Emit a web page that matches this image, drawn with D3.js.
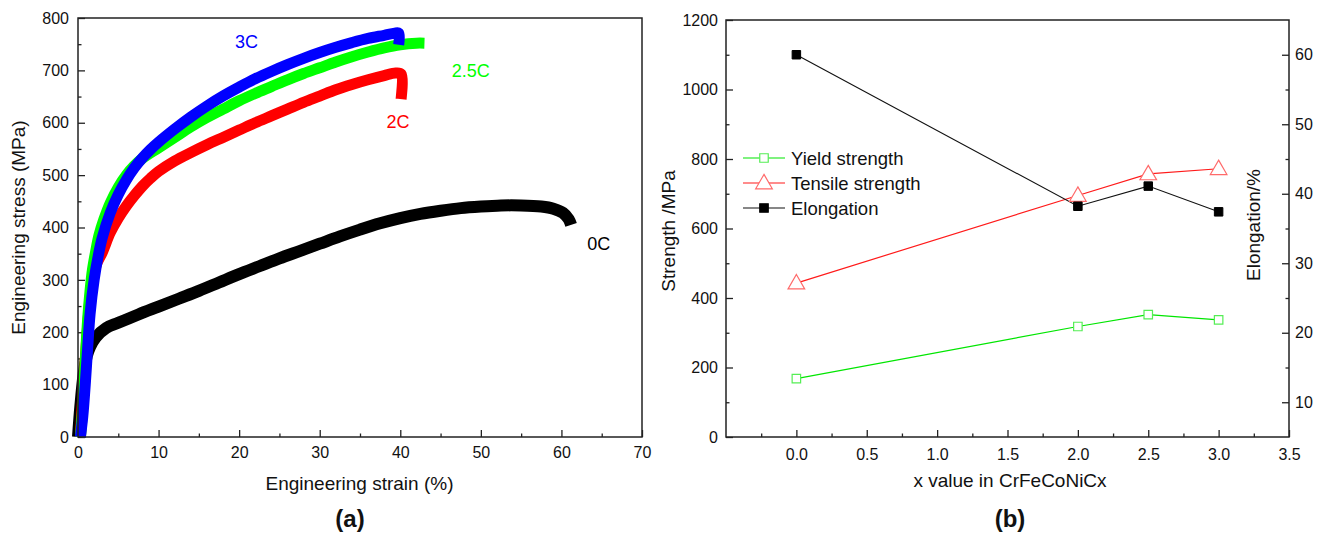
<!DOCTYPE html>
<html>
<head>
<meta charset="utf-8">
<script src="https://cdn.jsdelivr.net/npm/d3@7"></script>
<style>
  html, body { margin: 0; padding: 0; background: #fff; }
  svg { display: block; font-family: "Liberation Sans", Arial, sans-serif; }
  .tick text { font-size: 16px; fill: #111; }
  .domain { display: none; }
  .tick line { stroke: #222; stroke-width: 1.3; }
</style>
</head>
<body>
<svg id="chart" width="1318" height="535"></svg>
<script>
// ---------------- Panel (a): stress-strain curves ----------------
const strain0C = [0, 0.3, 0.7, 1.1, 1.5, 2.2, 3.5, 5, 7.5, 10, 12.5, 15, 17.5, 20, 22.5, 25, 27.5, 30, 32.5, 35, 37.5, 40, 42.5, 45, 47.5, 50, 52.5, 55, 57.5, 59, 60.2, 60.9, 61.2];
const stress0C = [0, 60, 120, 155, 172, 190, 208, 218, 234, 249, 264, 279, 295, 311, 326, 341, 355, 369, 383, 396, 408, 418, 426, 432, 437, 440, 442, 442, 440, 436, 428, 416, 405];

const strain2C = [0.3, 0.6, 1.0, 1.4, 1.8, 2.3, 3, 4, 5, 6, 7, 8, 9, 10, 12, 14, 16, 18, 20, 22, 24, 26, 28, 30, 32, 34, 36, 38, 39.4, 40.1, 40.1];
const stress2C = [0, 80, 170, 250, 300, 330, 352, 390, 418, 441, 461, 479, 494, 507, 527, 543, 558, 572, 586, 600, 613, 626, 639, 651, 663, 673, 682, 690, 695, 693, 645];

const strain25C = [0.3, 0.6, 0.9, 1.2, 1.5, 1.8, 2.2, 2.6, 3.2, 4, 5, 6, 7, 8, 10, 12, 14, 16, 18, 20, 22, 24, 26, 28, 30, 32, 34, 36, 38, 40, 42, 43];
const stress25C = [0, 60, 145, 225, 280, 320, 355, 385, 415, 447, 477, 500, 518, 532, 552, 572, 592, 610, 626, 642, 656, 669, 682, 694, 705, 716, 726, 735, 743, 749, 752, 752];

const strain3C = [0.3, 0.6, 0.9, 1.2, 1.5, 2, 2.5, 3, 4, 5, 6, 7, 8, 9, 10, 12, 14, 16, 18, 20, 22, 24, 26, 28, 30, 32, 34, 36, 38, 39.3, 39.8, 39.8];
const stress3C = [0, 40, 100, 170, 235, 300, 345, 380, 428, 463, 491, 514, 533, 549, 563, 588, 611, 632, 651, 668, 684, 698, 711, 723, 734, 744, 753, 761, 767, 771, 771, 749];

const curveNames = ["0C", "2C", "2.5C", "3C"];
const curveColors = ["#000000", "#ff0000", "#00ff00", "#0000ff"];
const curveStrains = [strain0C, strain2C, strain25C, strain3C];
const curveStresses = [stress0C, stress2C, stress25C, stress3C];
// annotation anchors (strain %, stress MPa)
const labelStrain = [63.2, 38.3, 46.4, 19.5];
const labelStress = [357, 590, 688, 743];

const strainTicks = [0, 10, 20, 30, 40, 50, 60, 70];
const stressTicks = [0, 100, 200, 300, 400, 500, 600, 700, 800];

// ---------------- Panel (b): strength & elongation ----------------
const xValues = [0.0, 2.0, 2.5, 3.0];
const yieldStrength = [168, 318, 352, 337];
const tensileStrength = [443, 695, 757, 772];
const elongation = [60, 38.2, 41.1, 37.4];
const seriesNames = ["Yield strength", "Tensile strength", "Elongation"];

const xTicksB = [0.0, 0.5, 1.0, 1.5, 2.0, 2.5, 3.0, 3.5];
const strengthTicks = [0, 200, 400, 600, 800, 1000, 1200];
const elongTicks = [10, 20, 30, 40, 50, 60];

const svg = d3.select("#chart");

// ======== Panel (a) ========
const A = { x0: 78, x1: 642, y0: 18, y1: 437 };
const xa = d3.scaleLinear().domain([0, 70]).range([A.x0, A.x1]);
const ya = d3.scaleLinear().domain([0, 800]).range([A.y1, A.y0]);

const ga = svg.append("g");
ga.append("g").attr("transform", `translate(0,${A.y1})`)
  .call(d3.axisBottom(xa).tickValues(d3.range(5, 70, 10)).tickSize(-3.5).tickFormat(""));
ga.append("g").attr("transform", `translate(${A.x0},0)`)
  .call(d3.axisLeft(ya).tickValues(d3.range(50, 800, 100)).tickSize(-3.5).tickFormat(""));
ga.append("g").attr("transform", `translate(0,${A.y1})`)
  .call(d3.axisBottom(xa).tickValues(strainTicks).tickSize(-7).tickPadding(10).tickFormat(d3.format("d")));
ga.append("g").attr("transform", `translate(${A.x0},0)`)
  .call(d3.axisLeft(ya).tickValues(stressTicks).tickSize(-7).tickPadding(9).tickFormat(d3.format("d")));

const lineA = d3.line().x(d => xa(d[0])).y(d => ya(d[1])).curve(d3.curveCatmullRom.alpha(0.5));
curveNames.forEach((name, i) => {
  const pts = curveStrains[i].map((s, j) => [s, curveStresses[i][j]]);
  ga.append("path").datum(pts)
    .attr("d", lineA)
    .attr("fill", "none")
    .attr("stroke", curveColors[i])
    .attr("stroke-width", i === 0 ? 12 : 11)
    .attr("stroke-linejoin", "round")
    .attr("stroke-linecap", "butt");
});
curveNames.forEach((name, i) => {
  ga.append("text").attr("x", xa(labelStrain[i])).attr("y", ya(labelStress[i]))
    .attr("font-size", 18).attr("fill", curveColors[i]).text(name);
});
ga.append("rect").attr("x", A.x0).attr("y", A.y0).attr("width", A.x1 - A.x0).attr("height", A.y1 - A.y0)
  .attr("fill", "none").attr("stroke", "#222").attr("stroke-width", 1.5);

ga.append("text").attr("x", (A.x0 + A.x1) / 2 - 0.5).attr("y", 490).attr("text-anchor", "middle")
  .attr("font-size", 19).attr("fill", "#111").text("Engineering strain (%)");
ga.append("text").attr("transform", `translate(25,${(A.y0 + A.y1) / 2}) rotate(-90)`)
  .attr("text-anchor", "middle").attr("font-size", 19).attr("fill", "#111").text("Engineering stress (MPa)");
ga.append("text").attr("x", 350).attr("y", 527).attr("text-anchor", "middle")
  .attr("font-size", 24).attr("font-weight", "bold").attr("fill", "#111").text("(a)");

// ======== Panel (b) ========
const B = { x0: 726, x1: 1289, y0: 20, y1: 437 };
const xb = d3.scaleLinear().domain([-0.5, 3.5]).range([B.x0, B.x1]);
const yb = d3.scaleLinear().domain([0, 1200]).range([B.y1, B.y0]);
const yb2 = d3.scaleLinear().domain([5, 65]).range([B.y1, B.y0]);

const gb = svg.append("g");
gb.append("g").attr("transform", `translate(0,${B.y1})`)
  .call(d3.axisBottom(xb).tickValues([-0.25, 0.25, 0.75, 1.25, 1.75, 2.25, 2.75, 3.25]).tickSize(-3.5).tickFormat(""));
gb.append("g").attr("transform", `translate(${B.x0},0)`)
  .call(d3.axisLeft(yb).tickValues(d3.range(100, 1200, 200)).tickSize(-3.5).tickFormat(""));
gb.append("g").attr("transform", `translate(${B.x1},0)`)
  .call(d3.axisRight(yb2).tickValues(d3.range(15, 65, 10)).tickSize(-3.5).tickFormat(""));

gb.append("g").attr("transform", `translate(0,${B.y1})`)
  .call(d3.axisBottom(xb).tickValues(xTicksB).tickSize(-7).tickPadding(12).tickFormat(d3.format(".1f")));
gb.append("g").attr("transform", `translate(${B.x0},0)`)
  .call(d3.axisLeft(yb).tickValues(strengthTicks).tickSize(-7).tickPadding(8).tickFormat(d3.format("d")));
gb.append("g").attr("transform", `translate(${B.x1},0)`)
  .call(d3.axisRight(yb2).tickValues(elongTicks).tickSize(-7).tickPadding(6).tickFormat(d3.format("d")));

const lineY = d3.line().x(d => xb(d[0])).y(d => yb(d[1]));
const lineE = d3.line().x(d => xb(d[0])).y(d => yb2(d[1]));
const ysPts = xValues.map((x, i) => [x, yieldStrength[i]]);
const tsPts = xValues.map((x, i) => [x, tensileStrength[i]]);
const elPts = xValues.map((x, i) => [x, elongation[i]]);

const cYield = "#00e600", cYieldM = "#55ee55";
const cTens = "#ff1a1a", cTensM = "#ff6a6a";

gb.append("path").datum(ysPts).attr("d", lineY).attr("fill", "none").attr("stroke", cYield).attr("stroke-width", 1.2);
gb.append("path").datum(tsPts).attr("d", lineY).attr("fill", "none").attr("stroke", cTens).attr("stroke-width", 1.2);
gb.append("path").datum(elPts).attr("d", lineE).attr("fill", "none").attr("stroke", "#111").attr("stroke-width", 1.1);

const sq = d3.symbol().type(d3.symbolSquare).size(72);
const tri = d3.symbol().type(d3.symbolTriangle).size(120);
const sqF = d3.symbol().type(d3.symbolSquare).size(72);

gb.selectAll(".ys").data(ysPts).join("path")
  .attr("transform", d => `translate(${xb(d[0])},${yb(d[1])})`)
  .attr("d", sq).attr("fill", "#fff").attr("stroke", cYieldM).attr("stroke-width", 1.2);
gb.selectAll(".ts").data(tsPts).join("path")
  .attr("transform", d => `translate(${xb(d[0])},${yb(d[1]) + 1})`)
  .attr("d", tri).attr("fill", "#fff").attr("stroke", cTensM).attr("stroke-width", 1.2);
gb.selectAll(".el").data(elPts).join("path")
  .attr("transform", d => `translate(${xb(d[0])},${yb2(d[1])})`)
  .attr("d", sqF).attr("fill", "#000").attr("stroke", "#000");

const legY = [158, 183, 208];
const legLine = [cYield, cTens, "#111"];
const legSym = [sq, tri, sqF];
const legFill = ["#fff", "#fff", "#000"];
const legStroke = [cYieldM, cTensM, "#000"];
seriesNames.forEach((n, i) => {
  const g = gb.append("g");
  g.append("line").attr("x1", 743).attr("x2", 785).attr("y1", legY[i]).attr("y2", legY[i])
    .attr("stroke", legLine[i]).attr("stroke-width", 1.2);
  g.append("path").attr("transform", `translate(764,${legY[i] + (i === 1 ? 1 : 0)})`)
    .attr("d", legSym[i]).attr("fill", legFill[i]).attr("stroke", legStroke[i]).attr("stroke-width", 1.2);
  g.append("text").attr("x", 791).attr("y", legY[i] + 6.5).attr("font-size", 18.5).attr("fill", "#111").text(n);
});

gb.append("rect").attr("x", B.x0).attr("y", B.y0).attr("width", B.x1 - B.x0).attr("height", B.y1 - B.y0)
  .attr("fill", "none").attr("stroke", "#222").attr("stroke-width", 1.5);

gb.append("text").attr("x", 1010).attr("y", 487).attr("text-anchor", "middle")
  .attr("font-size", 19).attr("fill", "#111").text("x value in CrFeCoNiCx");
gb.append("text").attr("transform", `translate(675,231) rotate(-90)`)
  .attr("text-anchor", "middle").attr("font-size", 19).attr("fill", "#111").text("Strength /MPa");
gb.append("text").attr("transform", `translate(1260,225) rotate(-90)`)
  .attr("text-anchor", "middle").attr("font-size", 19).attr("fill", "#111").text("Elongation/%");
gb.append("text").attr("x", 1010).attr("y", 527).attr("text-anchor", "middle")
  .attr("font-size", 24).attr("font-weight", "bold").attr("fill", "#111").text("(b)");
</script>
</body>
</html>
